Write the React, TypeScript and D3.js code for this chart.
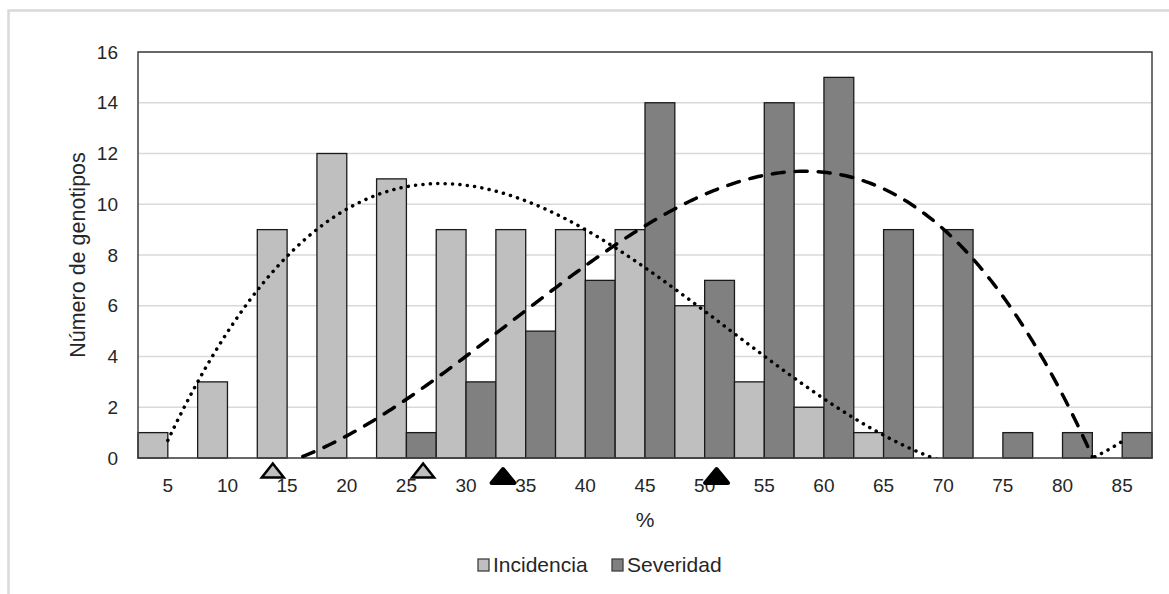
// Incidencia / Severidad histogram with cubic trendlines
import React from "react";
import { scaleBand, scaleLinear, line, range } from "d3";

const categories = [5, 10, 15, 20, 25, 30, 35, 40, 45, 50, 55, 60, 65, 70, 75, 80, 85];
const incidencia = [1, 3, 9, 12, 11, 9, 9, 9, 9, 6, 3, 2, 1, 0, 0, 0, 0];
const severidad = [0, 0, 0, 0, 1, 3, 5, 7, 14, 7, 14, 15, 9, 9, 1, 1, 1];
const yTicks = [0, 2, 4, 6, 8, 10, 12, 14, 16];
// triangle marks under the axis (% values)
const incidenciaMarks = [13.8, 26.4];
const severidadMarks = [33.1, 51.0];

const width = 1169;
const height = 594;
const plot = { left: 138, top: 52, right: 1152, bottom: 458 };
const font = "'Liberation Sans', Arial, sans-serif";
const lightFill = "#bfbfbf";
const darkFill = "#808080";

// least squares polynomial (like an Excel trendline), x = 1..n
const polyFit = (ys: number[], order: number) => {
  const n = order + 1;
  const xs = ys.map((_, i) => i + 1);
  const A: number[][] = range(n).map((r) =>
    range(n + 1).map((c) =>
      c < n
        ? xs.reduce((s, x) => s + Math.pow(x, r + c), 0)
        : xs.reduce((s, x, i) => s + Math.pow(x, r) * ys[i], 0)
    )
  );
  for (let i = 0; i < n; i++) {
    let p = i;
    for (let k = i + 1; k < n; k++) if (Math.abs(A[k][i]) > Math.abs(A[p][i])) p = k;
    [A[i], A[p]] = [A[p], A[i]];
    for (let k = i + 1; k < n; k++) {
      const f = A[k][i] / A[i][i];
      for (let c = i; c <= n; c++) A[k][c] -= f * A[i][c];
    }
  }
  const coef = new Array(n).fill(0);
  for (let i = n - 1; i >= 0; i--) {
    let s = A[i][n];
    for (let c = i + 1; c < n; c++) s -= A[i][c] * coef[c];
    coef[i] = s / A[i][i];
  }
  return (x: number) => coef.reduce((s, a, i) => s + a * Math.pow(x, i), 0);
};

const App = () => {
  const xScale = scaleBand<number>()
    .domain(categories)
    .range([plot.left, plot.right])
    .padding(0);
  const bw = xScale.bandwidth() / 2;
  const center = (c: number) => (xScale(c) as number) + xScale.bandwidth() / 2;
  const yScale = scaleLinear().domain([0, 16]).range([plot.bottom, plot.top]);
  const pctScale = scaleLinear()
    .domain([5, 85])
    .range([center(5), center(85)]);
  const idxScale = scaleLinear()
    .domain([1, categories.length])
    .range([center(5), center(85)]);

  const trend = (ys: number[]) => {
    const f = polyFit(ys, 3);
    const pts = range(1, categories.length + 0.001, 0.05).map((x) => [x, f(x)]);
    return line<number[]>()
      .x((d) => idxScale(d[0]))
      .y((d) => yScale(d[1]))(pts) as string;
  };

  const tri = (x: number, top: number, w: number, h: number) =>
    `M${x},${top} L${x + w / 2},${top + h} L${x - w / 2},${top + h} Z`;

  return (
    <svg
      width={width}
      height={height}
      style={{ position: "absolute", left: 0, top: 0, background: "#fff" }}
      fontFamily={font}
    >
      <defs>
        <clipPath id="plotClip">
          <rect x={plot.left} y={plot.top} width={plot.right - plot.left} height={plot.bottom - plot.top} />
        </clipPath>
      </defs>
      {/* chart area border */}
      <rect x={8.5} y={10.5} width={1300} height={700} fill="none" stroke="#d9d9d9" strokeWidth={2.5} />

      {/* gridlines */}
      {yTicks.map((t) => (
        <line
          key={t}
          x1={plot.left}
          x2={plot.right}
          y1={yScale(t)}
          y2={yScale(t)}
          stroke="#d9d9d9"
          strokeWidth={1.5}
        />
      ))}

      {/* bars */}
      {categories.map((c, i) => (
        <g key={c}>
          {incidencia[i] > 0 && (
            <rect
              x={xScale(c)}
              y={yScale(incidencia[i])}
              width={bw}
              height={yScale(0) - yScale(incidencia[i])}
              fill={lightFill}
              stroke="#1a1a1a"
              strokeWidth={1.3}
            />
          )}
          {severidad[i] > 0 && (
            <rect
              x={(xScale(c) as number) + bw}
              y={yScale(severidad[i])}
              width={bw}
              height={yScale(0) - yScale(severidad[i])}
              fill={darkFill}
              stroke="#1a1a1a"
              strokeWidth={1.3}
            />
          )}
        </g>
      ))}

      {/* plot border */}
      <rect
        x={plot.left}
        y={plot.top}
        width={plot.right - plot.left}
        height={plot.bottom - plot.top}
        fill="none"
        stroke="#404040"
        strokeWidth={1.5}
      />

      {/* trendlines */}
      <g clipPath="url(#plotClip)">
        <path
          d={trend(incidencia)}
          fill="none"
          stroke="#000"
          strokeWidth={3.5}
          strokeDasharray="0.1 7.3"
          strokeLinecap="round"
        />
        <path
          d={trend(severidad)}
          fill="none"
          stroke="#000"
          strokeWidth={3.5}
          strokeDasharray="12 11"
          strokeLinecap="round"
        />
      </g>

      {/* y axis labels */}
      {yTicks.map((t) => (
        <text key={t} x={118} y={yScale(t)} dy="0.35em" textAnchor="end" fontSize={19} fill="#262626">
          {t}
        </text>
      ))}
      {/* x axis labels */}
      {categories.map((c) => (
        <text key={c} x={center(c)} y={492} textAnchor="middle" fontSize={19} fill="#262626">
          {c}
        </text>
      ))}

      {/* triangle marks */}
      {incidenciaMarks.map((v) => (
        <path key={v} d={tri(pctScale(v), 463.5, 22, 14)} fill={lightFill} stroke="#000" strokeWidth={2.5} />
      ))}
      {severidadMarks.map((v) => (
        <path
          key={v}
          d={tri(pctScale(v), 469, 23, 14)}
          fill="#000"
          stroke="#000"
          strokeWidth={4}
          strokeLinejoin="round"
        />
      ))}

      <text x={(plot.left + plot.right) / 2} y={527} textAnchor="middle" fontSize={21} fill="#262626">
        %
      </text>
      <text
        transform={`translate(85,${(plot.top + plot.bottom) / 2}) rotate(-90)`}
        textAnchor="middle"
        fontSize={21.5}
        fill="#262626"
      >
        Número de genotipos
      </text>

      {/* legend */}
      <rect x={478} y={559} width={11} height={12} fill={lightFill} stroke="#404040" strokeWidth={1.3} />
      <text x={493} y={572} fontSize={21} fill="#262626">
        Incidencia
      </text>
      <rect x={612} y={559} width={11} height={12} fill={darkFill} stroke="#404040" strokeWidth={1.3} />
      <text x={627} y={572} fontSize={21} fill="#262626">
        Severidad
      </text>
    </svg>
  );
};

export default App;
